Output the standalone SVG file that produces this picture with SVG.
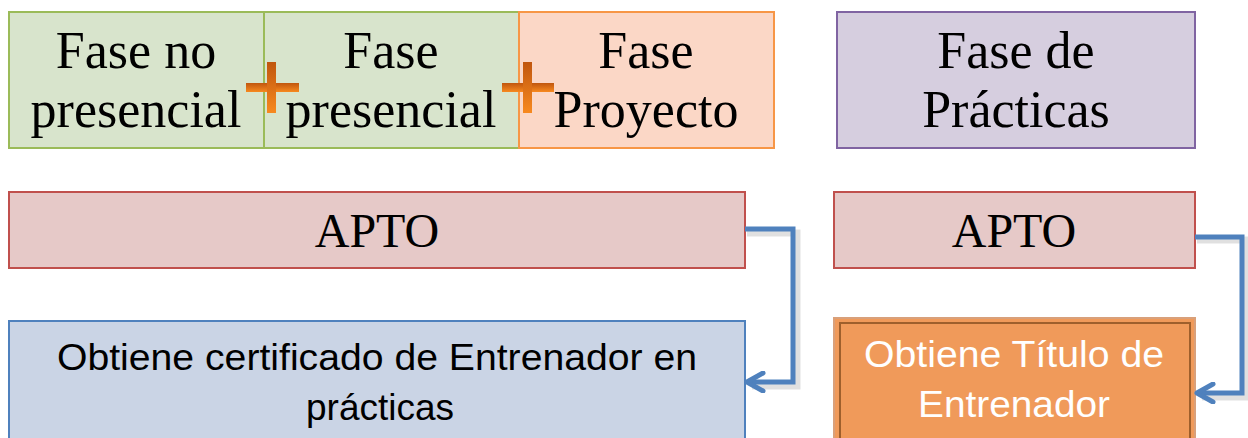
<svg xmlns="http://www.w3.org/2000/svg" width="1248" height="438" viewBox="0 0 1248 438">
<style>
.serif{font-family:"Liberation Serif","DejaVu Serif",serif;fill:#000;text-anchor:middle}
.sans{font-family:"Liberation Sans","DejaVu Sans",sans-serif;text-anchor:middle}
.big{font-size:52px}
.conn{fill:none;stroke:#4F81BD;stroke-width:5;stroke-linejoin:miter}
.shadow{fill:none;stroke:#000;stroke-opacity:0.12;stroke-width:7}
</style>
<defs>
<linearGradient id="plusg" x1="0" y1="0" x2="0" y2="1">
<stop offset="0" stop-color="#C0560E"/>
<stop offset="1" stop-color="#F7891F"/>
</linearGradient>
<marker id="arr" viewBox="0 0 22 22" refX="19" refY="11" markerWidth="22" markerHeight="22" markerUnits="userSpaceOnUse" orient="auto">
<path d="M3 2 L19 11 L3 20" fill="none" stroke="#4F81BD" stroke-width="5" stroke-linecap="round" stroke-linejoin="round"/>
</marker>
</defs>

<g id="fase-no-presencial">
<rect x="9" y="12" width="255" height="136" fill="#D8E4CC" stroke="#9BBB59" stroke-width="2"/>
<text class="serif big" x="136" y="68">Fase no</text>
<text class="serif big" x="136" y="127">presencial</text>
</g>
<g id="fase-presencial">
<rect x="264" y="12" width="255" height="136" fill="#D8E4CC" stroke="#9BBB59" stroke-width="2"/>
<text class="serif big" x="391" y="68">Fase</text>
<text class="serif big" x="391" y="127">presencial</text>
</g>
<g id="fase-proyecto">
<rect x="519" y="12" width="255" height="136" fill="#FBD7C6" stroke="#F79646" stroke-width="2"/>
<text class="serif big" x="646" y="68">Fase</text>
<text class="serif big" x="646" y="127">Proyecto</text>
</g>
<g id="plus1">
<rect x="246" y="83" width="53" height="9" fill="url(#plusg)"/>
<rect x="267" y="62" width="9" height="51" fill="url(#plusg)"/>
</g>
<g id="plus2">
<rect x="502" y="83" width="52" height="9" fill="url(#plusg)"/>
<rect x="523" y="62" width="9" height="51" fill="url(#plusg)"/>
</g>
<g id="fase-practicas">
<rect x="837" y="12" width="358" height="136" fill="#D6CEDF" stroke="#8064A2" stroke-width="2"/>
<text class="serif big" x="1016" y="68">Fase de</text>
<text class="serif big" x="1016" y="127">Prácticas</text>
</g>

<g id="apto1">
<rect x="9" y="192" width="736" height="76" fill="#E6C9C8" stroke="#C0504D" stroke-width="2"/>
<text class="serif" font-size="48" x="377" y="247">APTO</text>
</g>
<g id="apto2">
<rect x="834" y="192" width="361" height="76" fill="#E6C9C8" stroke="#C0504D" stroke-width="2"/>
<text class="serif" font-size="48" x="1014" y="247">APTO</text>
</g>

<g id="certificado">
<rect x="9" y="321" width="736" height="130" fill="#CAD4E5" stroke="#4F81BD" stroke-width="2"/>
<text class="sans" font-size="36" fill="#000" x="377" y="370" textLength="640" lengthAdjust="spacingAndGlyphs">Obtiene certificado de Entrenador en</text>
<text class="sans" font-size="36" fill="#000" x="380" y="420" textLength="148" lengthAdjust="spacingAndGlyphs">prácticas</text>
</g>
<g id="titulo">
<rect x="834" y="318" width="361" height="130" fill="#F09A5A" stroke="#D9A07A" stroke-width="2"/>
<rect x="840" y="323" width="350" height="125" fill="none" stroke="#9E5F2C" stroke-width="2"/>
<text class="sans" font-size="36" fill="#fff" x="1014" y="367" textLength="300" lengthAdjust="spacingAndGlyphs">Obtiene Título de</text>
<text class="sans" font-size="36" fill="#fff" x="1014" y="417" textLength="192" lengthAdjust="spacingAndGlyphs">Entrenador</text>
</g>

<g id="connectors">
<path class="shadow" d="M747 233 H797 V386 H752"/>
<path class="shadow" d="M1197 240 H1246 V397 H1202"/>
<path class="conn" d="M745 229 H793 V382 H747" marker-end="url(#arr)"/>
<path class="conn" d="M1195 237 H1242 V393 H1197" marker-end="url(#arr)"/>
</g>
</svg>
